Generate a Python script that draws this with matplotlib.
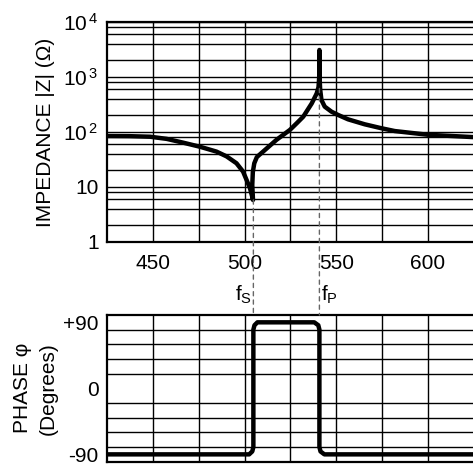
import matplotlib
matplotlib.use('Agg')
import matplotlib.pyplot as plt
from matplotlib.patches import ConnectionPatch

plt.rcParams['font.family'] = ['Liberation Sans', 'DejaVu Sans']
plt.rcParams['mathtext.fontset'] = 'custom'
plt.rcParams['mathtext.rm'] = 'Liberation Sans'
plt.rcParams['mathtext.default'] = 'regular'

# impedance magnitude |Z| (ohm) vs frequency (kHz)
freq_z = [425, 437, 448.5, 457.5, 466.5, 475.6, 484.7, 490.2, 495.6, 499.2, 501.1,
          502.9, 504.0, 504.6,
          504.2, 504.5, 505.3, 506.7, 510.1, 517.4, 524.7, 528.5, 532.0, 536.6, 539.3,
          540.3, 540.7, 540.8, 540.9, 541.2, 541.9, 543.7, 547.4, 551.0, 556.4,
          565.5, 574.6, 581.9, 600, 630]
imp_z = [84.5, 84, 82, 75, 64, 54, 44, 36, 27, 19, 13.4,
         9.6, 7.0, 5.8,
         10.9, 18.6, 27, 35, 44, 72, 109, 145, 190, 330, 500,
         650, 1000, 3100, 1000, 600, 382, 289, 234, 204, 170,
         138, 117, 104, 89, 79]

# phase (degrees) vs frequency
freq_p = [425, 502.5, 504.2, 504.8, 504.8, 505.4, 507, 538, 540.2, 540.8, 540.8,
          541.4, 543.5, 630]
phase = [-90, -90, -86, -80, 80, 86, 90, 90, 86, 80, -80, -86, -90, -90]

fs, fp = 504.8, 540.8
x_major = [450, 500, 550, 600]
x_minor = [475, 525, 575, 625]

fig = plt.figure(figsize=(4.73, 4.65), dpi=100)
ax1 = fig.add_axes([0.2262, 0.4796, 0.795, 0.4731])
ax2 = fig.add_axes([0.2262, 0.0071, 0.795, 0.3155])

grid_kw = dict(color='black', linewidth=1.0)

# ─── impedance panel ───
ax1.plot(freq_z, imp_z, color='black', lw=3.2, solid_joinstyle='round',
         solid_capstyle='butt', zorder=5)
ax1.set_yscale('log')
ax1.set_xlim(425, 630)
ax1.set_ylim(1, 1e4)
ax1.set_xticks(x_major)
ax1.set_xticks(x_minor, minor=True)
ax1.set_xticklabels([str(v) for v in x_major])
ax1.set_yticks([1, 10, 100, 1000, 10000])
ax1.set_yticklabels(['1', '10', r'$10^{\,2}$', r'$10^{\,3}$', r'$10^{\,4}$'])
ax1.set_yticks([m * 10 ** d for d in range(4) for m in (2, 4, 6, 8)], minor=True)
ax1.yaxis.set_minor_formatter(matplotlib.ticker.NullFormatter())
ax1.grid(which='both', **grid_kw)
ax1.tick_params(which='both', length=0, labelsize=15)
ax1.tick_params(axis='x', pad=9)
ax1.tick_params(axis='y', pad=6)
ax1.set_ylabel('IMPEDANCE |Z| (Ω)', fontsize=15, labelpad=6)
for s in ax1.spines.values():
    s.set_linewidth(1.6)
ax1.set_axisbelow(True)

# ─── phase panel ───
ax2.plot(freq_p, phase, color='black', lw=3.2, solid_joinstyle='round', zorder=5)
ax2.set_xlim(425, 630)
ax2.set_ylim(-100, 100)
ax2.set_xticks(x_major)
ax2.set_xticks(x_minor, minor=True)
ax2.set_xticklabels([])
ax2.set_yticks([-90, 0, 90])
ax2.set_yticklabels(['-90', '0', '+90'])
ax2.set_yticks(list(range(-80, 81, 20)), minor=True)
ax2.grid(axis='x', which='both', **grid_kw)
ax2.grid(axis='y', which='minor', **grid_kw)
ax2.tick_params(which='both', length=0, labelsize=15)
ax2.tick_params(axis='y', pad=6)
ax2.set_ylabel('PHASE φ\n(Degrees)', fontsize=15, labelpad=4, linespacing=1.45)
for s in ax2.spines.values():
    s.set_linewidth(1.6)

# dashed markers for series / parallel resonance
for f, ytop in ((fs, 5.8), (fp, 620)):
    con = ConnectionPatch(xyA=(f, ytop), coordsA=ax1.transData,
                          xyB=(f, 100), coordsB=ax2.transData,
                          linestyle=(0, (3, 3)), color='#666666', lw=1.0, zorder=4)
    fig.add_artist(con)

ax2.text(fs - 0.8, 112, r'f$_{S}$', ha='right', va='bottom', fontsize=15,
         clip_on=False)
ax2.text(fp + 0.8, 112, r'f$_{P}$', ha='left', va='bottom', fontsize=15,
         clip_on=False)

fig.savefig('out.png', dpi=100)
